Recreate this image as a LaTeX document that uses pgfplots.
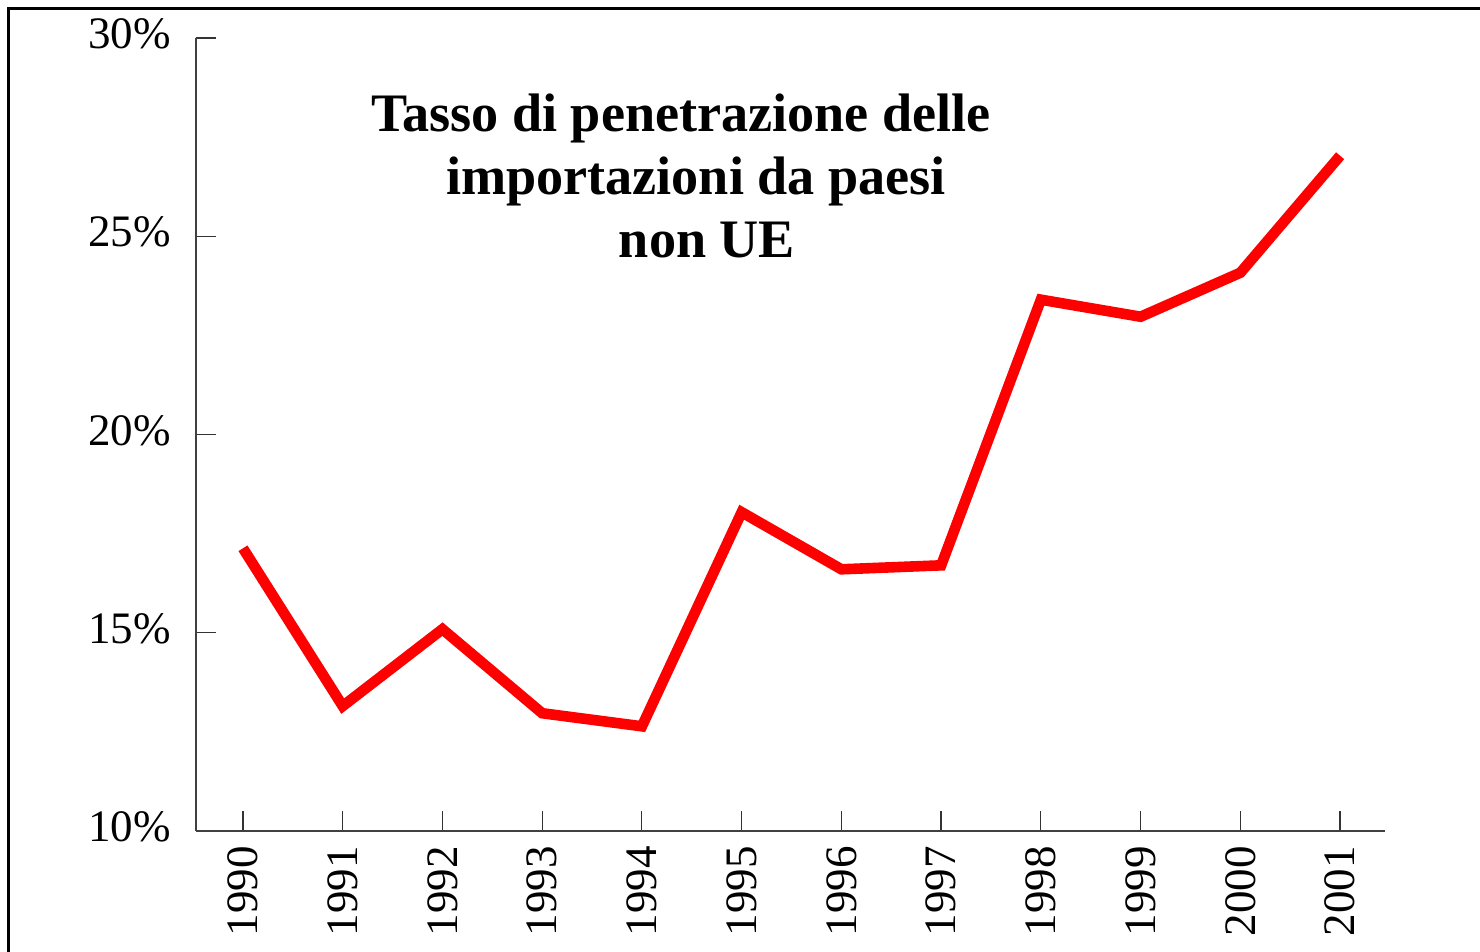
\documentclass[border=0pt]{standalone}
\usepackage{pgfplots}
\pgfplotsset{compat=1.18}
\usepackage{fontspec}
\setmainfont{Liberation Serif}
\begin{document}
\begin{tikzpicture}[x=1pt,y=1pt]
\path[use as bounding box] (0,0) rectangle (740,476);
\draw[line width=1.5pt,line cap=rect] (4,0) -- (4,471.5) -- (740,471.5);
\begin{axis}[
  at={(98pt,60.5pt)}, anchor=origin,
  scale only axis,
  width=594.5pt, height=396.5pt,
  xmin=1989.529, xmax=2001.45,
  ymin=10, ymax=30,
  axis x line*=bottom, axis y line*=left,
  axis line style={black!75, line width=0.6pt},
  tick align=inside,
  major tick length=10pt,
  tick style={black!80, line width=0.6pt},
  xtick={1990,...,2001},
  xticklabels={1990,1991,1992,1993,1994,1995,1996,1997,1998,1999,2000,2001},
  ytick={10,15,20,25,30},
  yticklabels={10\%,15\%,20\%,25\%,30\%},
  x tick label style={rotate=90, anchor=east, font=\fontsize{22.5}{26}\selectfont, xshift=1.5pt},
  y tick label style={font=\fontsize{22.5}{26}\selectfont, yshift=2pt},
  xticklabel shift=5.5pt,
  yticklabel shift=9pt,
  clip=false,
]
\addplot[red, line width=5.3pt, line join=miter, miter limit=2] coordinates {
  (1990,17.13) (1991,13.15) (1992,15.09) (1993,12.97) (1994,12.64)
  (1995,18.04) (1996,16.60) (1997,16.70) (1998,23.40) (1999,22.97)
  (2000,24.08) (2001,27.03)
};
\end{axis}
\node[anchor=base, font=\fontsize{27.1}{31}\selectfont\bfseries] at (340.5,410) {Tasso di penetrazione delle};
\node[anchor=base, font=\fontsize{27.1}{31}\selectfont\bfseries] at (348,378.5) {importazioni da paesi};
\node[anchor=base, font=\fontsize{27.1}{31}\selectfont\bfseries] at (353.5,347) {non UE};
\end{tikzpicture}
\end{document}
